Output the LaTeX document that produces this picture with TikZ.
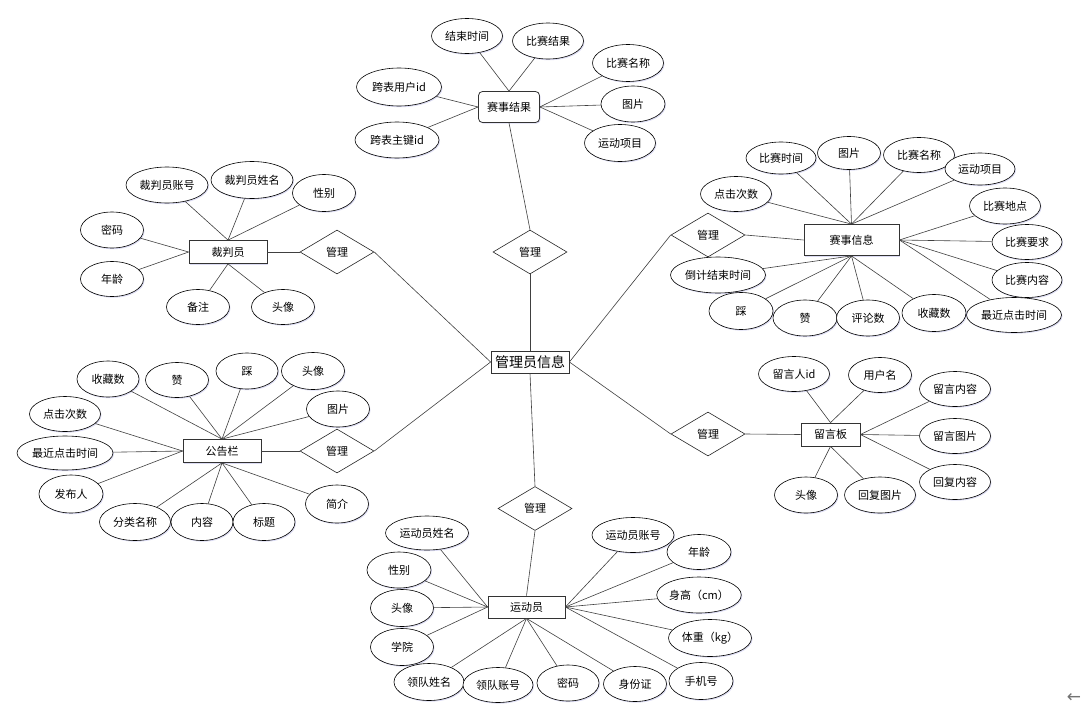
\documentclass[tikz,border=0pt]{standalone}
\usepackage{fontspec}
\newfontfamily\cjk{Noto Sans CJK SC}
\newfontfamily\dvs{DejaVu Sans}
\usetikzlibrary{shapes.geometric,shadows}
\tikzset{
  attr/.style={ellipse, draw=black, fill=white, line width=0.6pt, inner sep=0pt,
    minimum width=#1, minimum height=36pt, font=\cjk\fontsize{11}{13}\selectfont,
    drop shadow={opacity=0.18, fill=blue!50!gray, shadow xshift=1pt, shadow yshift=-1.2pt}},
  attr/.default=64pt,
  ent/.style={rectangle, draw=black!80, fill=white, line width=0.8pt, inner sep=0pt,
    font=\cjk\fontsize{11}{13}\selectfont,
    drop shadow={opacity=0.18, fill=blue!50!gray, shadow xshift=1pt, shadow yshift=-1.2pt}},
  rel/.style={diamond, draw=black!85, fill=white, line width=0.6pt, inner sep=0pt, aspect=1.68,
    minimum width=74pt, minimum height=44pt, font=\cjk\fontsize{11}{13}\selectfont},
  con/.style={draw=black!75, line width=0.6pt}
}
\begin{document}
\begin{tikzpicture}[x=1pt,y=-1pt]
\useasboundingbox[fill=white] (0,0) rectangle (1081,707);

% ---- centre
\node[ent, minimum width=78pt, minimum height=22pt, font=\cjk\fontsize{14}{16}\selectfont] (c) at (530,362) {管理员信息};

% ---- relations
\node[rel] (r1) at (530,252) {管理};
\node[rel] (r2) at (708,235) {管理};
\node[rel] (r3) at (337,252) {管理};
\node[rel] (r4) at (337,451) {管理};
\node[rel] (r5) at (535,508.5) {管理};
\node[rel] (r6) at (708,434) {管理};

% ---- entities
\node[ent, rounded corners=4pt, minimum width=61pt, minimum height=31pt] (e1) at (509,107) {赛事结果};
\node[ent, minimum width=95pt, minimum height=31pt] (e2) at (851.5,240) {赛事信息};
\node[ent, minimum width=78pt, minimum height=23pt] (e3) at (228,252) {裁判员};
\node[ent, minimum width=78pt, minimum height=23pt] (e4) at (222,451) {公告栏};
\node[ent, minimum width=77pt, minimum height=22pt] (e5) at (526.5,607) {运动员};
\node[ent, minimum width=59pt, minimum height=23pt] (e6) at (830.5,434.5) {留言板};

% ---- 赛事结果 attributes
\node[attr=71pt, minimum height=35pt] (a11) at (467,36) {结束时间};
\node[attr=71pt] (a12) at (548,41) {比赛结果};
\node[attr=71pt, minimum height=37pt] (a13) at (628,63) {比赛名称};
\node[attr=64pt] (a14) at (633,104) {图片};
\node[attr=71pt, minimum height=37pt] (a15) at (620,143) {运动项目};
\node[attr=85pt, minimum height=38pt] (a16) at (399,87) {跨表用户id};
\node[attr=84pt] (a17) at (397,140) {跨表主键id};

% ---- 赛事信息 attributes
\node[attr=70pt, minimum height=32pt] (b1) at (781,158) {比赛时间};
\node[attr=63pt, minimum height=33pt] (b2) at (849,153) {图片};
\node[attr=71pt, minimum height=35pt] (b3) at (919,155) {比赛名称};
\node[attr=70pt, minimum height=32pt] (b4) at (980,169) {运动项目};
\node[attr=71pt, minimum height=35pt] (b5) at (736,194) {点击次数};
\node[attr=71pt] (b6) at (1005,206) {比赛地点};
\node[attr=70pt, minimum height=35pt] (b7) at (1027,242) {比赛要求};
\node[attr=70pt, minimum height=35pt] (b8) at (1027,280) {比赛内容};
\node[attr=95pt, minimum height=35pt] (b9) at (1014,315) {最近点击时间};
\node[attr=95pt] (b10) at (718,275) {倒计结束时间};
\node[attr=64pt, minimum height=37pt] (b11) at (741,311) {踩};
\node[attr=64pt] (b12) at (805,318) {赞};
\node[attr=63pt] (b13) at (868,318) {评论数};
\node[attr=64pt, minimum height=37pt] (b14) at (934,313) {收藏数};

% ---- 裁判员 attributes
\node[attr=82pt] (c1) at (167,185) {裁判员账号};
\node[attr=82pt, minimum height=37pt] (c2) at (252,180) {裁判员姓名};
\node[attr=63pt, minimum height=37pt] (c3) at (324,193) {性别};
\node[attr=63pt] (c4) at (112,230) {密码};
\node[attr=63pt, minimum height=35pt] (c5) at (112,279) {年龄};
\node[attr=63pt, minimum height=35pt] (c6) at (198,307) {备注};
\node[attr=63pt, minimum height=35pt] (c7) at (283,307) {头像};

% ---- 公告栏 attributes
\node[attr=62pt] (d1) at (108,379) {收藏数};
\node[attr=63pt, minimum height=35pt] (d2) at (177,380) {赞};
\node[attr=62pt] (d3) at (247,371) {踩};
\node[attr=63pt, minimum height=37pt] (d4) at (313,371) {头像};
\node[attr=63pt] (d5) at (338,409) {图片};
\node[attr=71pt, minimum height=35pt] (d6) at (65,414) {点击次数};
\node[attr=96pt, minimum height=34pt] (d7) at (65,453) {最近点击时间};
\node[attr=64pt, minimum height=38pt] (d8) at (71,494) {发布人};
\node[attr=71pt, minimum height=37pt] (d9) at (135,522) {分类名称};
\node[attr=62pt, minimum height=37pt] (d10) at (202,522) {内容};
\node[attr=62pt, minimum height=37pt] (d11) at (264,522) {标题};
\node[attr=63pt, minimum height=38pt] (d12) at (337,504) {简介};

% ---- 运动员 attributes
\node[attr=83pt, minimum height=34pt] (f1) at (427,533) {运动员姓名};
\node[attr=64pt] (f2) at (399,570) {性别};
\node[attr=63pt, minimum height=37pt] (f3) at (402,608) {头像};
\node[attr=63pt, minimum height=37pt] (f4) at (402,647) {学院};
\node[attr=70pt, minimum height=37pt] (f5) at (429,682) {领队姓名};
\node[attr=70pt, minimum height=35pt] (f6) at (498,685) {领队账号};
\node[attr=62pt] (f7) at (568,683) {密码};
\node[attr=63pt, minimum height=35pt] (f8) at (635,684) {身份证};
\node[attr=64pt, minimum height=37pt] (f9) at (701,681) {手机号};
\node[attr=82pt, minimum height=35pt] (f10) at (633,535) {运动员账号};
\node[attr=64pt, minimum height=35pt] (f11) at (699,552) {年龄};
\node[attr=83pt] (f12) at (699,595) {身高（cm）};
\node[attr=83pt, minimum height=37pt] (f13) at (710,638) {体重（kg）};

% ---- 留言板 attributes
\node[attr=71pt, minimum height=35pt] (g1) at (794,374) {留言人id};
\node[attr=63pt, minimum height=35pt] (g2) at (880,375) {用户名};
\node[attr=71pt, minimum height=35pt] (g3) at (955,389) {留言内容};
\node[attr=71pt, minimum height=35pt] (g4) at (955,436) {留言图片};
\node[attr=71pt, minimum height=35pt] (g5) at (955,482) {回复内容};
\node[attr=63pt] (g6) at (806,495) {头像};
\node[attr=71pt] (g7) at (880,495) {回复图片};

% ---- corner arrow
\node[text=black!55, font=\dvs\fontsize{17}{17}\selectfont, inner sep=0pt] (arr) at (1074,698) {←};

% ---- relation connectors
\draw[con] (c.north) -- (r1.south);
\draw[con] (r1.north) -- (e1.south);
\draw[con] (c.east) -- (r2.west);
\draw[con] (r2.east) -- (e2.west);
\draw[con] (c.west) -- (r3.east);
\draw[con] (r3.west) -- (e3.east);
\draw[con] (c.west) -- (r4.east);
\draw[con] (r4.west) -- (e4.east);
\draw[con] (c.south) -- (r5.north);
\draw[con] (r5.south) -- (e5.north);
\draw[con] (c.east) -- (r6.west);
\draw[con] (r6.east) -- (e6.west);

% ---- attribute connectors
\foreach \a in {a11,a12} \draw[con] (e1.north) -- (\a);
\foreach \a in {a13,a14,a15} \draw[con] (e1.east) -- (\a);
\foreach \a in {a16,a17} \draw[con] (e1.west) -- (\a);

\foreach \a in {b1,b2,b3,b4,b5} \draw[con] (e2.north) -- (\a);
\foreach \a in {b6,b7,b8,b9} \draw[con] (e2.east) -- (\a);
\foreach \a in {b10,b11,b12,b13,b14} \draw[con] (e2.south) -- (\a);

\foreach \a in {c1,c2,c3} \draw[con] (e3.north) -- (\a);
\foreach \a in {c4,c5} \draw[con] (e3.west) -- (\a);
\foreach \a in {c6,c7} \draw[con] (e3.south) -- (\a);

\foreach \a in {d1,d2,d3,d4,d5} \draw[con] (e4.north) -- (\a);
\foreach \a in {d6,d7,d8} \draw[con] (e4.west) -- (\a);
\foreach \a in {d9,d10,d11,d12} \draw[con] (e4.south) -- (\a);

\foreach \a in {f1,f2,f3,f4} \draw[con] (e5.west) -- (\a);
\foreach \a in {f5,f6,f7,f8} \draw[con] (e5.south) -- (\a);
\foreach \a in {f9,f10,f11,f12,f13} \draw[con] (e5.east) -- (\a);

\foreach \a in {g1,g2} \draw[con] (e6.north) -- (\a);
\foreach \a in {g3,g4,g5} \draw[con] (e6.east) -- (\a);
\foreach \a in {g6,g7} \draw[con] (e6.south) -- (\a);
\end{tikzpicture}
\end{document}
